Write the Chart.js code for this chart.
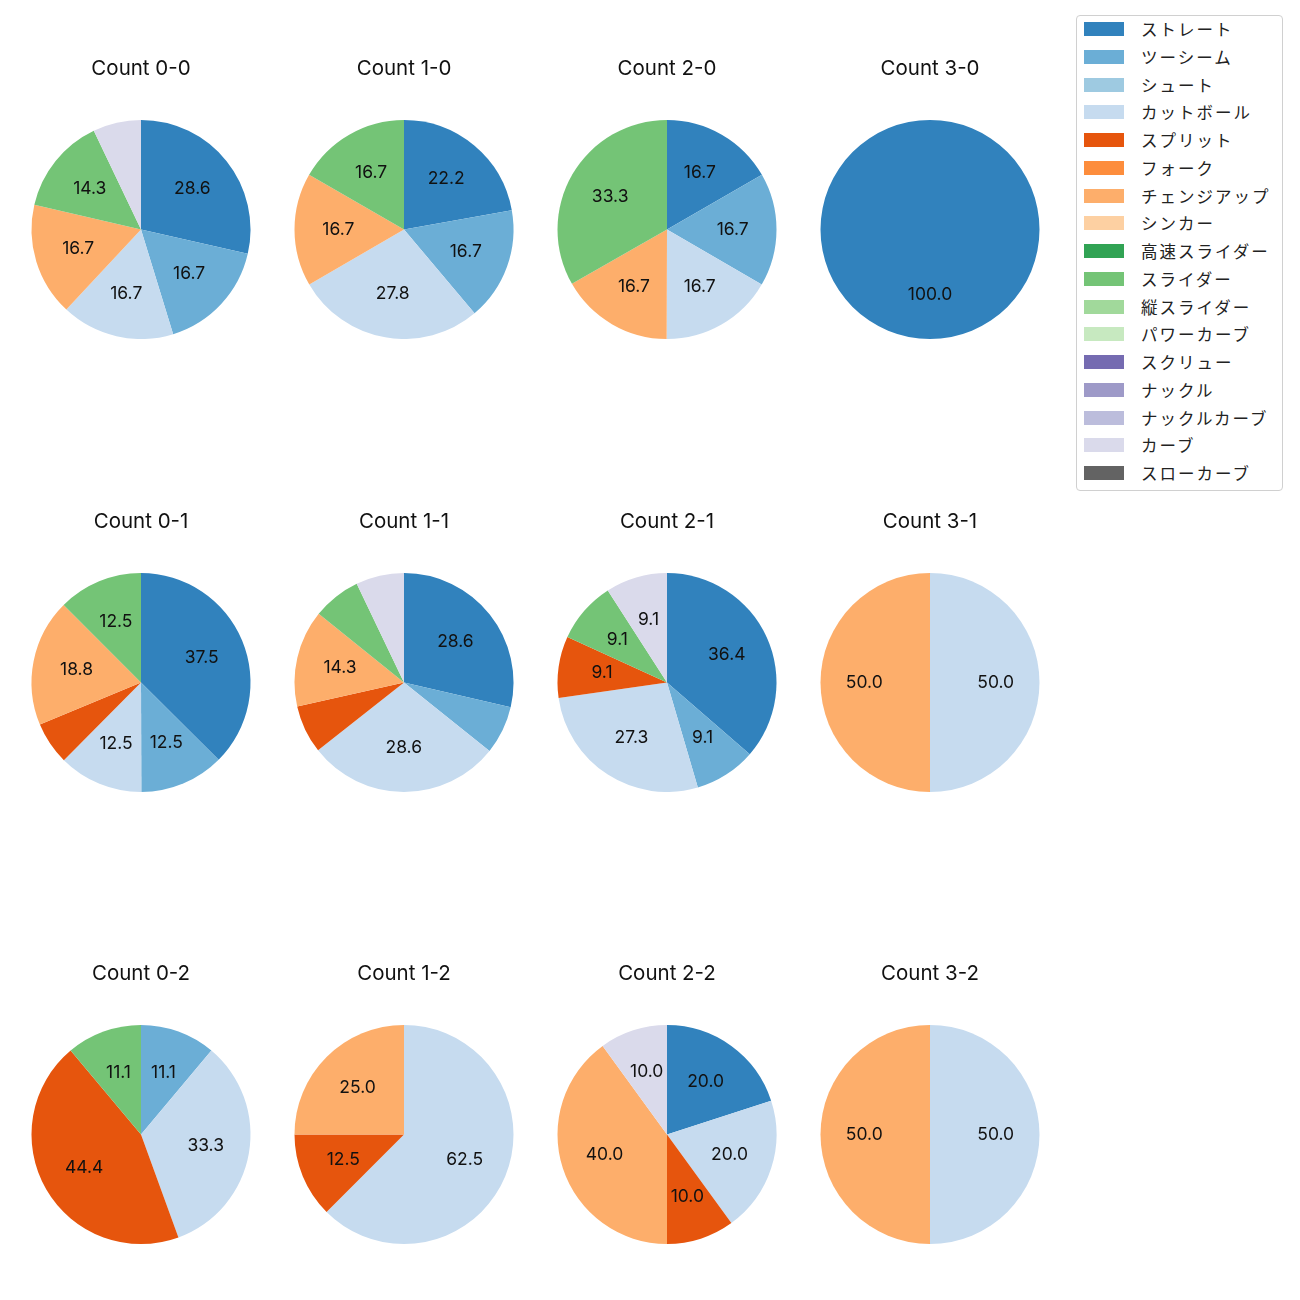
<!DOCTYPE html>
<html>
<head>
<meta charset="utf-8">
<script src="https://cdnjs.cloudflare.com/ajax/libs/Chart.js/4.4.1/chart.umd.min.js"></script>
<style>
  body{margin:0;background:#fff;font-family:"Noto Sans CJK JP","Noto Sans",sans-serif;}
  #page{position:relative;width:1300px;height:1300px;}
  .cell{position:absolute;}
  #legend{position:absolute;left:1076px;top:15px;width:205px;height:474px;border:1px solid #d0d0d0;border-radius:4px;background:#fff;}
  #legend .row{position:absolute;left:7px;height:20px;display:flex;align-items:center;}
  #legend .sw{width:40px;height:14px;margin-right:17px;}
  #legend .tx{font-size:16.5px;color:#222;letter-spacing:2px;white-space:nowrap;}
</style>
</head>
<body>
<div id="page"><div id="legend"></div></div>
<script>
// pitch types and tab20c colours, in legend order
const PITCHES = ['ストレート','ツーシーム','シュート','カットボール','スプリット','フォーク','チェンジアップ','シンカー',
  '高速スライダー','スライダー','縦スライダー','パワーカーブ','スクリュー','ナックル','ナックルカーブ','カーブ','スローカーブ'];
const COLORS = ['#3182bd','#6baed6','#9ecae1','#c6dbef','#e6550d','#fd8d3c','#fdae6b','#fdd0a2',
  '#31a354','#74c476','#a1d99b','#c7e9c0','#756bb1','#9e9ac8','#bcbddc','#dadaeb','#636363'];

// share (%) of each pitch type per count, same order as PITCHES
const COUNT_0_0 = [28.6,16.7,0,16.7,0,0,16.7,0,0,14.3,0,0,0,0,0,7.1,0];
const COUNT_1_0 = [22.2,16.7,0,27.8,0,0,16.7,0,0,16.7,0,0,0,0,0,0,0];
const COUNT_2_0 = [16.7,16.7,0,16.7,0,0,16.7,0,0,33.3,0,0,0,0,0,0,0];
const COUNT_3_0 = [100,0,0,0,0,0,0,0,0,0,0,0,0,0,0,0,0];
const COUNT_0_1 = [37.5,12.5,0,12.5,6.3,0,18.8,0,0,12.5,0,0,0,0,0,0,0];
const COUNT_1_1 = [28.6,7.1,0,28.6,7.1,0,14.3,0,0,7.1,0,0,0,0,0,7.1,0];
const COUNT_2_1 = [36.4,9.1,0,27.3,9.1,0,0,0,0,9.1,0,0,0,0,0,9.1,0];
const COUNT_3_1 = [0,0,0,50,0,0,50,0,0,0,0,0,0,0,0,0,0];
const COUNT_0_2 = [0,11.1,0,33.3,44.4,0,0,0,0,11.1,0,0,0,0,0,0,0];
const COUNT_1_2 = [0,0,0,62.5,12.5,0,25,0,0,0,0,0,0,0,0,0,0];
const COUNT_2_2 = [20,0,0,20,10,0,40,0,0,0,0,0,0,0,0,10,0];
const COUNT_3_2 = [0,0,0,50,0,0,50,0,0,0,0,0,0,0,0,0,0];

const PANELS = [
  ['Count 0-0',COUNT_0_0],['Count 1-0',COUNT_1_0],['Count 2-0',COUNT_2_0],['Count 3-0',COUNT_3_0],
  ['Count 0-1',COUNT_0_1],['Count 1-1',COUNT_1_1],['Count 2-1',COUNT_2_1],['Count 3-1',COUNT_3_1],
  ['Count 0-2',COUNT_0_2],['Count 1-2',COUNT_1_2],['Count 2-2',COUNT_2_2],['Count 3-2',COUNT_3_2],
];
const LABEL_MIN = 8;   // smaller wedges get no percentage text
const LATIN = 'Inter, "Noto Sans CJK JP", sans-serif';

// --- layout --------------------------------------------------------------
const COL_X = [141,404,667,930];   // pie centres
const ROW_TOP = [40,493,945];      // canvas tops
const CW = 260, CH = 299, PIE = 219;

// percentage text at 0.6 of the radius, like matplotlib's pctdistance
const pctLabels = {
  id:'pctLabels',
  afterDatasetsDraw(chart){
    const ctx = chart.ctx, data = chart.data.datasets[0].data;
    ctx.save();
    ctx.font = '17.5px ' + LATIN;
    ctx.fillStyle = '#111'; ctx.textAlign = 'center'; ctx.textBaseline = 'middle';
    chart.getDatasetMeta(0).data.forEach((arc,i)=>{
      if(data[i] < LABEL_MIN) return;
      const p = arc.getProps(['x','y','startAngle','endAngle','outerRadius'],true);
      const a = (p.startAngle+p.endAngle)/2, r = p.outerRadius*0.6;
      ctx.fillText(data[i].toFixed(1), p.x+Math.cos(a)*r, p.y+Math.sin(a)*r);
    });
    ctx.restore();
  }
};

const page = document.getElementById('page');
PANELS.forEach(([title,vals],k)=>{
  const col = k%4, row = Math.floor(k/4);
  const div = document.createElement('div'); div.className='cell';
  div.style.left = (COL_X[col]-CW/2)+'px'; div.style.top = ROW_TOP[row]+'px';
  const cv = document.createElement('canvas'); cv.width=CW; cv.height=CH;
  div.appendChild(cv); page.appendChild(div);
  new Chart(cv,{
    type:'pie',
    data:{labels:PITCHES, datasets:[{data:vals, backgroundColor:COLORS, borderWidth:0}]},
    options:{
      responsive:false, animation:false,
      layout:{padding:{left:(CW-PIE)/2,right:(CW-PIE)/2,top:0,bottom:0}},
      plugins:{
        legend:{display:false}, tooltip:{enabled:false},
        title:{display:true,text:title,color:'#111',
          font:{family:LATIN,size:20.5,weight:'normal',lineHeight:1.2},
          padding:{top:17,bottom:38.4}},
      },
    },
    plugins:[pctLabels],
  });
});

// --- legend ----------------------------------------------------------------
const lg = document.getElementById('legend');
PITCHES.forEach((name,i)=>{
  const r = document.createElement('div'); r.className='row';
  r.style.top = (3+i*27.75)+'px';
  r.innerHTML = `<span class="sw" style="background:${COLORS[i]}"></span><span class="tx">${name}</span>`;
  lg.appendChild(r);
});
</script>
</body>
</html>
